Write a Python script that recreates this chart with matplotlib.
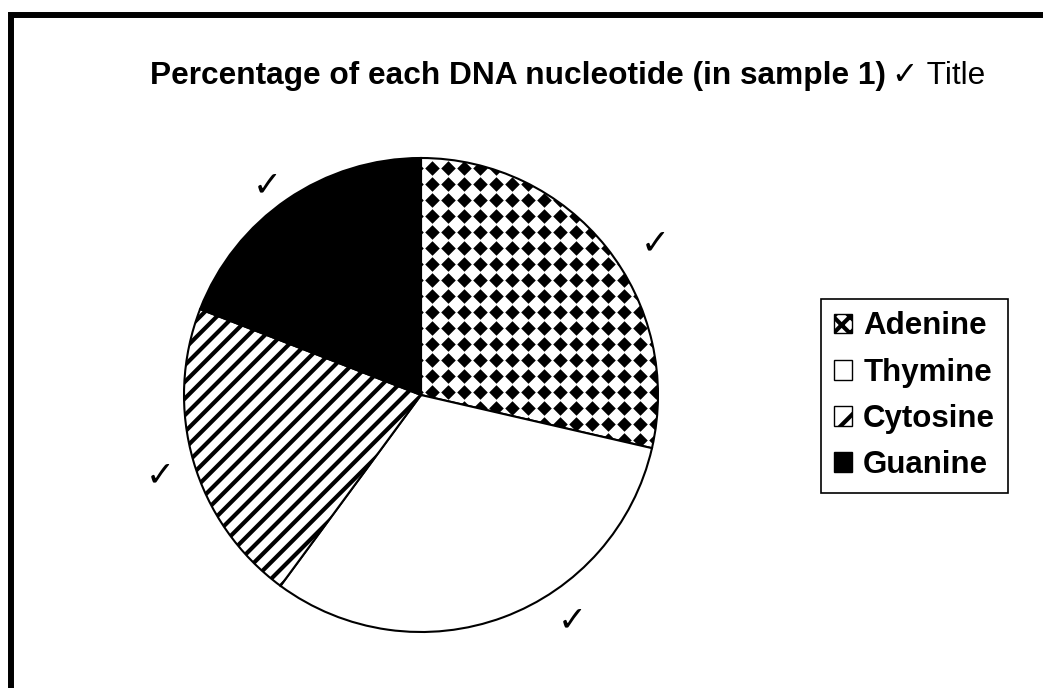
import numpy as np
import matplotlib
matplotlib.use("Agg")
import matplotlib.pyplot as plt
from matplotlib.patches import Patch, Rectangle

# nucleotide shares, clockwise from 12 o'clock
nucleotides = ["Adenine", "Thymine", "Cytosine", "Guanine"]
percentages = [28.6, 31.5, 20.8, 19.1]

title_text = "Percentage of each DNA nucleotide (in sample 1)"
title_note = "\u2713 Title"

plt.rcParams["font.family"] = ["Liberation Sans", "DejaVu Sans"]
plt.rcParams["hatch.linewidth"] = 3.0

W, H = 1043, 688
fig = plt.figure(figsize=(W / 100, H / 100), dpi=100)

# pie axes: centre (421, 395) px, radius 237 px
cx, cy, r = 421, 395, 237
ax = fig.add_axes([(cx - r) / W, (H - cy - r) / H, 2 * r / W, 2 * r / H])

wedges, _ = ax.pie(percentages, startangle=90, counterclock=False,
                   colors=["white", "white", "white", "black"],
                   wedgeprops=dict(edgecolor="black", linewidth=1.5))
wedges[2].set_hatch("//")
ax.set_xlim(-1, 1)
ax.set_ylim(-1, 1)
ax.set_aspect("equal")
ax.axis("off")

# diamond dot fill for Adenine, clipped to its wedge
step = 16 / r
gx, gy = np.meshgrid(np.arange(-1, 1.01, step) + step / 2,
                     np.arange(-1, 1.01, step))
dots = ax.scatter(gx.ravel(), gy.ravel(), marker="D", s=55, c="black",
                  linewidths=0, zorder=3)
dots.set_clip_path(wedges[0])

# frame around the figure (right/bottom run off the image)
fig.add_artist(Rectangle((11 / W, -0.2), 1.5, (H - 14.5) / H + 0.2,
                         transform=fig.transFigure, fill=False,
                         linewidth=4.3, edgecolor="black"))

# title
t1 = fig.text(150 / W, 1 - 76 / H, title_text, fontsize=22.8, fontweight="bold",
              ha="left", va="center")
ax.annotate(title_note, xy=(1, 0), xycoords=t1, xytext=(4, 0),
            textcoords="offset points", fontsize=22.8, ha="left", va="bottom",
            annotation_clip=False)

# marker ticks next to slices
for (px, py) in [(267, 185), (655, 243), (160, 475), (572, 620)]:
    fig.text(px / W, 1 - py / H, "\u2713", fontsize=25, fontweight="bold",
             ha="center", va="center", family="DejaVu Sans")

handles = [
    Patch(facecolor="white", edgecolor="black", hatch="XX", linewidth=1),
    Patch(facecolor="white", edgecolor="black", linewidth=1),
    Patch(facecolor="white", edgecolor="black", hatch="/", linewidth=1),
    Patch(facecolor="black", edgecolor="black", linewidth=1),
]
leg = fig.legend(handles, nucleotides, loc="upper left",
                 bbox_to_anchor=(821 / W, 1 - 299 / H),
                 prop=dict(size=22.5, weight="bold"),
                 handlelength=0.6, handleheight=0.6, handletextpad=0.35,
                 labelspacing=0.52, borderpad=0.4, borderaxespad=0,
                 fancybox=False, framealpha=1, edgecolor="black")
leg.get_frame().set_linewidth(1.2)

fig.savefig("out.png", dpi=100)
